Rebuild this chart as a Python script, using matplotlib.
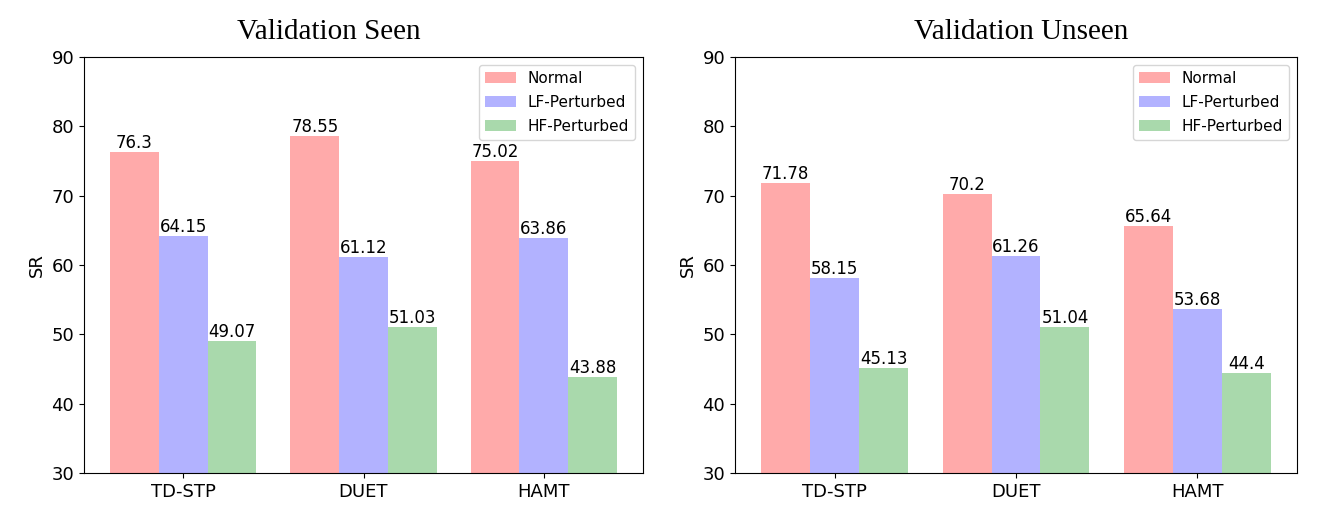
import matplotlib
matplotlib.use("Agg")
import matplotlib.pyplot as plt
import numpy as np

models = ["TD-STP", "DUET", "HAMT"]
series_names = ["Normal", "LF-Perturbed", "HF-Perturbed"]
seen_normal = [76.3, 78.55, 75.02]
seen_lf = [64.15, 61.12, 63.86]
seen_hf = [49.07, 51.03, 43.88]
unseen_normal = [71.78, 70.2, 65.64]
unseen_lf = [58.15, 61.26, 53.68]
unseen_hf = [45.13, 51.04, 44.4]
titles = ["Validation Seen", "Validation Unseen"]
colors = ["#FFAAAA", "#B2B2FF", "#A9D9AC"]

fig = plt.figure(figsize=(13.23, 5.15), dpi=100)
W, H = 1323, 515
ax_boxes = [(84, 57, 643, 473), (735, 57, 1297, 473)]
title_x = [0.438, 0.51]
data = [[seen_normal, seen_lf, seen_hf], [unseen_normal, unseen_lf, unseen_hf]]

x = np.arange(len(models))
w = 0.27
for (l, t, r, b), panel, title, tx in zip(ax_boxes, data, titles, title_x):
    ax = fig.add_axes([l / W, 1 - b / H, (r - l) / W, (b - t) / H])
    for i, (vals, name, c) in enumerate(zip(panel, series_names, colors)):
        bars = ax.bar(x + (i - 1) * w, vals, w, color=c, label=name)
        ax.bar_label(bars, labels=[f"{v:g}" for v in vals], fontsize=12, padding=0)
    ax.set_xlim(-0.55, 2.55)
    ax.set_ylim(30, 90)
    ax.set_xticks(x)
    ax.set_xticklabels(models)
    ax.tick_params(labelsize=13)
    ax.set_ylabel("SR", fontsize=13)
    ax.legend(loc="upper right", fontsize=11, labelspacing=0.6)
    ax.set_title(title, family="Liberation Serif", fontsize=21, pad=13, x=tx)

fig.savefig("out.png", dpi=100)
